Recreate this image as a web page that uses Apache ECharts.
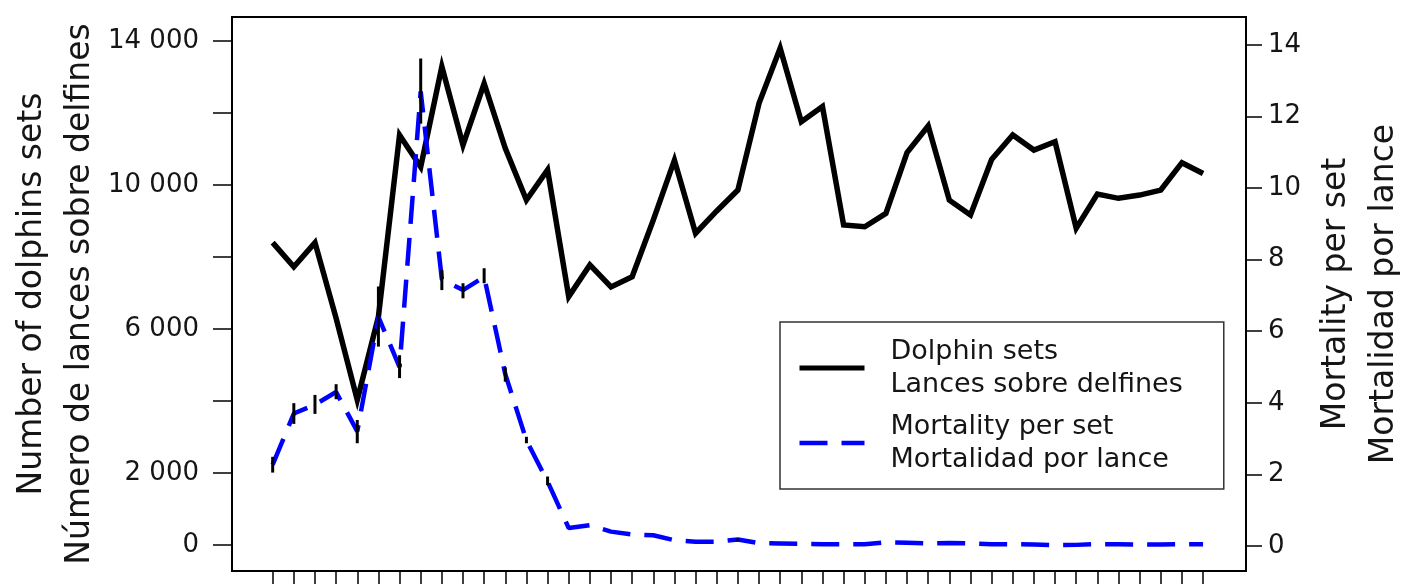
<!DOCTYPE html>
<html>
<head>
<meta charset="utf-8">
<script src="https://cdn.jsdelivr.net/npm/echarts@6/dist/echarts.min.js"></script>
<style>
html,body{margin:0;padding:0;background:#fff;overflow:hidden;}
#chart{width:1409px;height:584px;}
</style>
</head>
<body>
<div id="chart"></div>
<script>
// ---- data ----
const years = [1979,1980,1981,1982,1983,1984,1985,1986,1987,1988,1989,1990,1991,1992,1993,1994,1995,1996,1997,1998,1999,2000,2001,2002,2003,2004,2005,2006,2007,2008,2009,2010,2011,2012,2013,2014,2015,2016,2017,2018,2019,2020,2021,2022,2023];
const dolphinSets = [8400,7730,8400,6300,4030,6340,11390,10500,13290,11110,12820,11020,9580,10420,6900,7780,7170,7450,9030,10690,8660,9280,9860,12270,13800,11760,12180,8890,8840,9210,10900,11640,9580,9170,10710,11390,10970,11200,8800,9750,9630,9720,9860,10620,10320];
const mortalityPerSet = [2.27,3.7,3.95,4.3,3.2,6.4,5.0,12.7,7.45,7.15,7.52,4.8,2.95,1.8,0.5,0.58,0.4,0.32,0.3,0.16,0.12,0.12,0.18,0.08,0.07,0.06,0.05,0.05,0.05,0.1,0.09,0.07,0.08,0.07,0.05,0.05,0.04,0.02,0.03,0.05,0.05,0.04,0.04,0.05,0.05];
const mortalityLow  = [2.05,3.41,3.69,4.10,2.87,5.57,4.69,11.8,7.15,6.92,7.34,4.59,2.87,1.70,null,null,null,null,null,null,null,null,0.15,null,null,null,null,null,null,null,null,null,null,null,null,null,null,null,null,null,null,null,null,null,null];
const mortalityHigh = [2.49,3.99,4.22,4.52,3.52,7.25,5.33,13.62,7.71,7.34,7.76,4.99,3.05,1.94,null,null,null,null,null,null,null,null,0.21,null,null,null,null,null,null,null,null,null,null,null,null,null,null,null,null,null,null,null,null,null,null];
const leftTicks = [0,2000,4000,6000,8000,10000,12000,14000];
const leftLabels = [0,2000,6000,10000,14000];
const rightTicks = [0,2,4,6,8,10,12,14];
const seriesNames = ['Dolphin sets', 'Mortality per set'];
const legendLabels = {
  'Dolphin sets': 'Dolphin sets\nLances sobre delfines',
  'Mortality per set': 'Mortality per set\nMortalidad por lance'
};
const leftTitle = 'Number of dolphins sets\nNúmero de lances sobre delfines';
const rightTitle = 'Mortality per set\nMortalidad por lance';

// ---- chart ----
const FONT = 'DejaVu Sans';
const TXT = '#151515';
const BLUE = '#0000ff';
const DASH = [28, 14];
const chart = echarts.init(document.getElementById('chart'));
const errData = [];
years.forEach((y, i) => {
  if (mortalityLow[i] != null && mortalityHigh[i] != null) errData.push([y, mortalityLow[i], mortalityHigh[i]]);
});
const fmtThousands = v => {
  const s = String(Math.round(v));
  return s.length > 3 ? s.slice(0, s.length - 3) + ' ' + s.slice(-3) : s;
};

chart.setOption({
  animation: false,
  backgroundColor: '#fff',
  grid: {
    left: 232, right: 163, top: 17, bottom: 13,
    containLabel: false, outerBoundsMode: 'none',
    show: true, borderColor: '#000', borderWidth: 2, backgroundColor: 'transparent'
  },
  legend: {
    data: [
      { name: seriesNames[0], lineStyle: { color: '#000', width: 5, type: 'solid' } },
      { name: seriesNames[1], lineStyle: { color: BLUE, width: 4.5, type: DASH } }
    ],
    orient: 'vertical',
    left: 780, top: 322,
    padding: [13, 41, 13, 17],
    itemWidth: 65, itemHeight: 2, itemGap: 9,
    itemStyle: { opacity: 0 },
    borderColor: '#333', borderWidth: 1.5,
    backgroundColor: '#fff',
    formatter: n => legendLabels[n],
    textStyle: { fontFamily: FONT, fontSize: 27, color: TXT, lineHeight: 33, padding: [0, 0, 0, 21] }
  },
  xAxis: {
    type: 'value',
    min: 1977.076, max: 2025.03,
    axisLine: { show: true, onZero: false, lineStyle: { color: '#000', width: 2 } },
    axisTick: { show: true, inside: false, length: 16, customValues: years, lineStyle: { color: '#000', width: 1.5 } },
    axisLabel: { show: false },
    splitLine: { show: false }
  },
  yAxis: [
    {
      type: 'value', position: 'left',
      min: -722, max: 14667,
      name: leftTitle, nameLocation: 'middle', nameRotate: 90, nameGap: 128, nameMoveOverlap: false,
      nameTextStyle: { fontFamily: FONT, fontSize: 33, color: TXT, lineHeight: 48 },
      axisLine: { show: true, onZero: false, lineStyle: { color: '#000', width: 2 } },
      axisTick: { show: true, length: 19, customValues: leftTicks, lineStyle: { color: '#000', width: 1.5 } },
      axisLabel: { customValues: leftLabels, margin: 33, formatter: fmtThousands, fontFamily: FONT, fontSize: 26, color: TXT },
      splitLine: { show: false }
    },
    {
      type: 'value', position: 'right',
      min: -0.70, max: 14.78,
      name: rightTitle, nameLocation: 'middle', nameRotate: 90, nameGap: 66, nameMoveOverlap: false,
      nameTextStyle: { fontFamily: FONT, fontSize: 33, color: TXT, lineHeight: 48 },
      axisLine: { show: true, onZero: false, lineStyle: { color: '#000', width: 2 } },
      axisTick: { show: true, length: 16, customValues: rightTicks, lineStyle: { color: '#000', width: 1.5 } },
      axisLabel: { customValues: rightTicks, margin: 22, fontFamily: FONT, fontSize: 26, color: TXT },
      splitLine: { show: false }
    }
  ],
  series: [
    {
      name: seriesNames[0],
      type: 'line', yAxisIndex: 0,
      data: years.map((y, i) => [y, dolphinSets[i]]),
      symbol: 'none',
      lineStyle: { color: '#000', width: 5.5, join: 'miter' },
      itemStyle: { color: '#000' },
      z: 3
    },
    {
      name: seriesNames[1],
      type: 'line', yAxisIndex: 1,
      data: years.map((y, i) => [y, mortalityPerSet[i]]),
      symbol: 'none',
      lineStyle: { color: BLUE, width: 4.5, type: DASH },
      itemStyle: { color: BLUE },
      z: 4
    },
    {
      name: 'error',
      type: 'custom', yAxisIndex: 1,
      data: errData,
      encode: { x: 0, y: [1, 2] },
      renderItem: function (params, api) {
        const x = api.value(0);
        const p1 = api.coord([x, api.value(1)]);
        const p2 = api.coord([x, api.value(2)]);
        return {
          type: 'line',
          shape: { x1: p1[0], y1: p1[1], x2: p2[0], y2: p2[1] },
          style: { stroke: '#000', lineWidth: 3 }
        };
      },
      z: 5
    }
  ]
});
</script>
</body>
</html>
